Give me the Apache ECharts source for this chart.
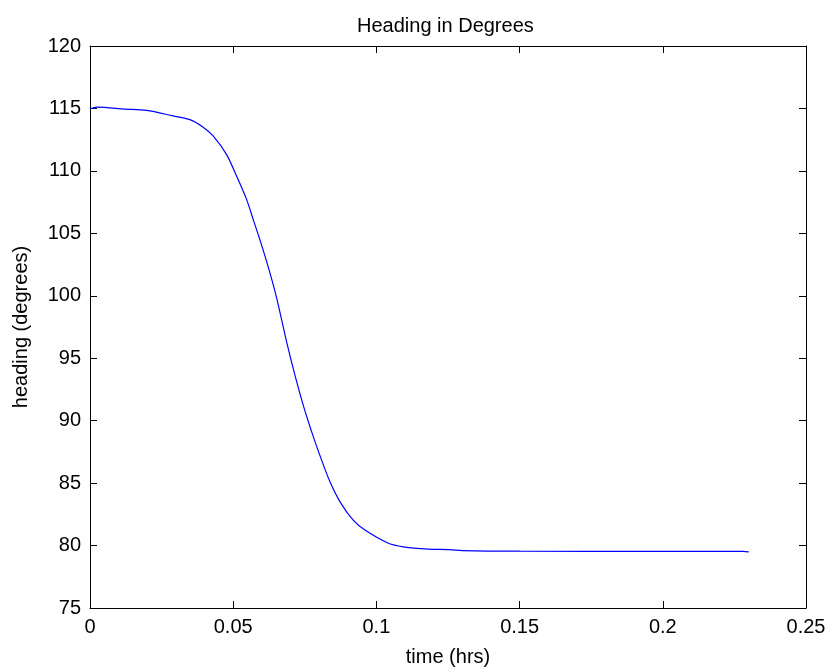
<!DOCTYPE html>
<html>
<head>
<meta charset="utf-8">
<script src="https://cdn.jsdelivr.net/npm/echarts@6/dist/echarts.min.js"></script>
<style>html,body{margin:0;padding:0;background:#fff}#c{width:830px;height:672px}</style>
</head>
<body>
<div id="c"></div>
<script>
const timeHrs = [0, 0.0023, 0.0122, 0.0198, 0.029, 0.0349, 0.0395, 0.043, 0.0477, 0.0512, 0.0547, 0.057, 0.06, 0.0628, 0.0652, 0.0687, 0.0716, 0.0745, 0.0774, 0.0803, 0.0838, 0.0873, 0.0919, 0.096, 0.1042, 0.1094, 0.1181, 0.1257, 0.13, 0.15, 0.2, 0.228, 0.23];
const headingDeg = [114.95, 115.1, 114.95, 114.84, 114.4, 114.1, 113.5, 112.8, 111.3, 109.57, 107.7, 106.1, 104.0, 101.86, 99.8, 96.27, 93.6, 91.2, 89.1, 87.2, 85.1, 83.5, 82.03, 81.24, 80.18, 79.9, 79.72, 79.68, 79.6, 79.55, 79.54, 79.54, 79.5];
const xTicks = [0, 0.05, 0.1, 0.15, 0.2, 0.25];
const yTicks = [75, 80, 85, 90, 95, 100, 105, 110, 115, 120];

const font = 'Liberation Sans, Arial, sans-serif';
const chart = echarts.init(document.getElementById('c'), null, {renderer: 'canvas'});
const axisLine = {show: true, onZero: false, lineStyle: {color: '#000', width: 1}};
const tickIn = {show: true, inside: true, length: 7, lineStyle: {color: '#000'}};
chart.setOption({
  animation: false,
  title: {text: 'Heading in Degrees', left: 352, top: 11,
    textStyle: {fontFamily: font, fontSize: 20, fontWeight: 'normal', color: '#000'}},
  grid: {left: 90, top: 46, right: 24, bottom: 62, containLabel: false},
  xAxis: [
    {type: 'value', min: xTicks[0], max: xTicks[xTicks.length-1], interval: 0.05, position: 'bottom',
     axisLine, axisTick: tickIn, splitLine: {show: false},
     name: 'time (hrs)', nameLocation: 'middle', nameGap: 39,
     nameTextStyle: {fontFamily: font, fontSize: 20, color: '#000'},
     axisLabel: {fontFamily: font, fontSize: 20, color: '#000', margin: 9,
       formatter: v => String(parseFloat(v.toFixed(2)))}},
    {type: 'value', min: xTicks[0], max: xTicks[xTicks.length-1], interval: 0.05, position: 'top',
     axisLine, axisTick: tickIn, splitLine: {show: false}, axisLabel: {show: false}}
  ],
  yAxis: [
    {type: 'value', min: yTicks[0], max: yTicks[yTicks.length-1], interval: 5, position: 'left',
     axisLine, axisTick: tickIn, splitLine: {show: false},
     name: 'heading (degrees)', nameLocation: 'middle', nameGap: 59,
     nameTextStyle: {fontFamily: font, fontSize: 20, color: '#000'},
     axisLabel: {fontFamily: font, fontSize: 20, color: '#000', margin: 9}},
    {type: 'value', min: yTicks[0], max: yTicks[yTicks.length-1], interval: 5, position: 'right',
     axisLine, axisTick: tickIn, splitLine: {show: false}, axisLabel: {show: false}}
  ],
  series: [{
    type: 'line', xAxisIndex: 0, yAxisIndex: 0,
    data: timeHrs.map((t, i) => [t, headingDeg[i]]),
    showSymbol: false, smooth: 0.3,
    lineStyle: {color: '#0000ff', width: 1.2}
  }]
});
</script>
</body>
</html>
